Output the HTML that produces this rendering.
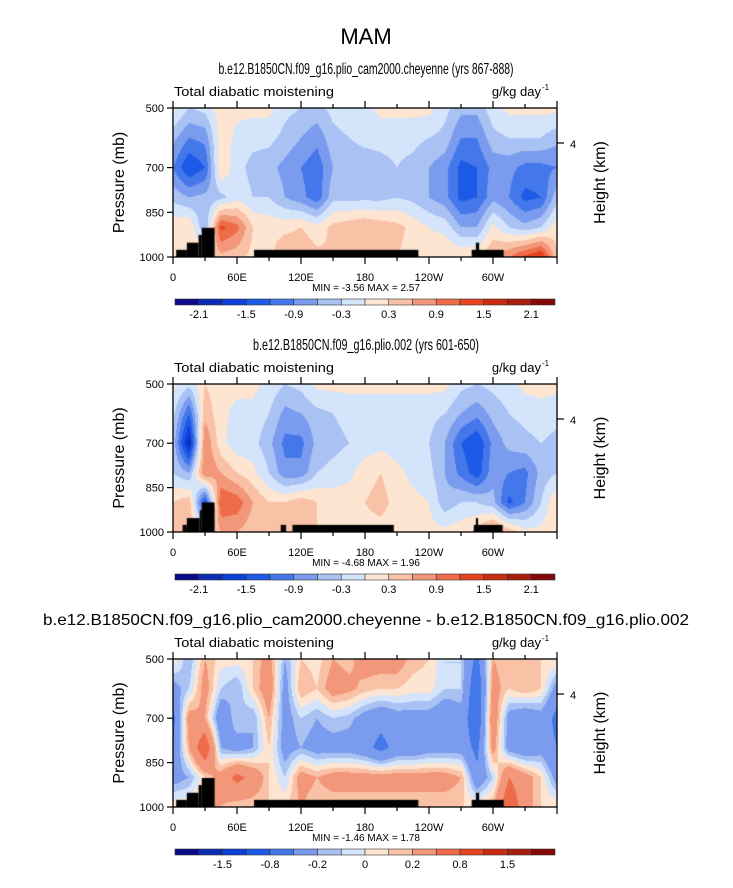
<!DOCTYPE html>
<html><head><meta charset="utf-8">
<style>
html,body{margin:0;padding:0;background:#fff;}
#wrap{position:relative;width:733px;height:888px;overflow:hidden;}
canvas{position:absolute;}
svg{position:absolute;left:0;top:0;}
text{font-family:"Liberation Sans",sans-serif;fill:#000;}
</style></head>
<body>
<div id="wrap">
<canvas id="c1" width="384" height="149" style="left:173px;top:108px"></canvas>
<canvas id="c2" width="384" height="148" style="left:173px;top:384px"></canvas>
<canvas id="c3" width="384" height="148" style="left:173px;top:659px"></canvas>
<svg id="svg" width="733" height="888"></svg>
</div>
<script>
// ---- data ----
const lons = [0,15,30,45,60,75,90,105,120,135,150,165,180,195,210,225,240,255,270,285,300,315,330,345,360];
const pressures = [500,600,700,800,900,1000];
const field1 = [
 [0.1,-0.3,-0.2,0.2,0.1,0.1,0.1,-0.2,-0.3,-0.4,-0.2,-0.1,-0.1,0.1,0.1,0.1,0.1,-0.2,-0.5,-0.5,-0.1,0.1,0.1,0.1,0.1],
 [-0.5,-0.9,-0.8,0.2,-0.1,-0.2,-0.2,-0.4,-0.6,-0.8,-0.4,-0.3,-0.2,-0.2,-0.2,-0.2,-0.3,-0.4,-0.9,-0.9,-0.4,-0.3,-0.3,-0.3,-0.5],
 [-0.9,-1.5,-1.2,0.3,-0.2,-0.4,-0.5,-0.7,-0.9,-1.1,-0.6,-0.5,-0.5,-0.4,-0.3,-0.4,-0.6,-0.8,-1.3,-1.2,-0.8,-0.8,-1.0,-1.0,-0.9],
 [-0.4,-0.6,-0.5,-0.4,-0.1,-0.3,-0.3,-0.6,-0.8,-1.1,-0.4,-0.4,-0.4,-0.4,-0.3,-0.4,-0.6,-0.8,-1.3,-1.2,-0.7,-0.9,-1.3,-1.2,-0.4],
 [0.2,0.3,-0.6,1.3,1.0,0.3,0.2,0.2,0.3,0.1,0.4,0.5,0.6,0.5,0.4,0.2,0.0,-0.1,-0.6,-0.6,0.1,-0.3,-0.5,-0.3,0.2],
 [0.3,0.3,0.3,0.5,0.4,0.2,0.2,0.6,0.6,0.4,0.3,0.3,0.3,0.3,0.3,0.2,0.2,0.3,0.3,0.3,0.6,0.9,1.3,1.6,0.3]
];
const field2 = [
 [0.1,-0.2,0.3,0.1,0.1,0.1,-0.1,-0.3,-0.2,0.1,0.1,0.1,0.1,0.1,0.1,0.1,0.1,0.1,-0.2,-0.3,-0.2,-0.1,0.1,0.1,0.1],
 [-0.2,-1.2,0.5,0.1,-0.1,-0.1,-0.3,-0.7,-0.6,-0.4,-0.3,-0.2,-0.2,-0.2,-0.2,-0.2,-0.2,-0.3,-0.6,-0.8,-0.5,-0.3,-0.2,-0.1,-0.2],
 [-0.4,-2.0,0.9,0.1,-0.2,-0.2,-0.5,-1.0,-1.0,-0.5,-0.4,-0.3,-0.2,-0.1,-0.2,-0.2,-0.3,-0.6,-1.2,-1.5,-0.8,-0.5,-0.4,-0.3,-0.4],
 [-0.3,-0.6,0.9,0.6,0.3,0.1,-0.3,-0.8,-0.8,-0.3,-0.2,-0.1,0.2,0.3,0.1,-0.1,-0.2,-0.6,-1.0,-1.4,-0.7,-0.9,-1.0,-0.5,-0.3],
 [0.3,0.5,-1.5,1.2,1.1,0.6,0.3,0.3,0.5,0.3,0.2,0.2,0.3,0.4,0.2,0.1,0.0,-0.5,-0.3,-0.3,-0.5,-1.3,-0.9,-0.3,0.3],
 [0.3,0.5,0.2,0.6,0.6,0.4,0.3,0.4,0.4,0.3,0.3,0.2,0.2,0.2,0.1,0.1,0.1,0.1,0.2,0.4,0.9,0.5,0.1,0.1,0.3]
];
const field3 = [
 [0.1,-0.2,0.2,0.05,0.05,0.1,0.3,-0.2,0.1,0.05,0.2,0.15,0.3,0.3,0.3,0.15,0.1,-0.1,-0.1,-0.6,0.2,0.1,0.2,0.1,0.1],
 [-0.3,-0.1,0.3,-0.1,-0.2,0.1,0.35,-0.3,0.2,0.1,0.3,0.25,0.15,0.1,0.1,0.05,0.05,-0.1,-0.1,-0.8,0.3,0.1,0.2,0.1,-0.3],
 [-0.6,0.3,0.2,-0.4,-0.1,-0.2,0.2,-0.3,-0.1,-0.2,-0.1,-0.15,-0.3,-0.4,-0.3,-0.3,-0.3,-0.4,-0.3,-0.8,0.4,-0.3,-0.4,-0.3,-0.6],
 [-0.5,0.2,0.8,-0.2,-0.3,-0.2,0.1,-0.3,-0.2,-0.3,-0.3,-0.3,-0.4,-0.6,-0.4,-0.4,-0.3,-0.3,-0.3,-0.6,0.3,-0.3,-0.4,-0.3,-0.5],
 [-0.3,-0.2,0.1,0.3,0.6,0.4,0.1,-0.1,0.3,0.2,0.3,0.3,0.3,0.3,0.3,0.3,0.3,0.3,0.2,-0.4,-0.1,0.5,0.3,0.1,-0.3],
 [0.1,0.1,0.2,0.2,0.1,0.1,0.1,0.1,0.2,0.1,0.1,0.1,0.1,0.1,0.1,0.1,0.1,0.1,0.1,0.1,0.2,0.8,0.3,0.1,0.1]
];
const levels12 = [-2.1,-1.8,-1.5,-1.2,-0.9,-0.6,-0.3,0,0.3,0.6,0.9,1.2,1.5,1.8,2.1];
const levels3 = [-1.8,-1.5,-1.2,-0.8,-0.5,-0.2,-0.1,0,0.1,0.2,0.5,0.8,1.2,1.5,1.8];
const cbLabels12 = ["-2.1","-1.5","-0.9","-0.3","0.3","0.9","1.5","2.1"];
const cbLabels3 = ["-1.5","-0.8","-0.2","0","0.2","0.8","1.5"];
// topography: [lonStart, lonEnd, surface pressure]
const topo1 = [[3,13,976],[13,24,952],[24,27,926],[27,39,902],[76,230,976],[280,310,976],[284,287,952]];
const topo2 = [[9,13,976],[13,25,953],[25,27,926],[27,39,900],[101,106,976],[112,207,976],[282,309,976],[284,286,953]];
const topo3 = [[3,13,976],[13,24,952],[24,27,926],[27,39,902],[76,230,976],[280,310,976],[284,287,952]];
const xTickLabels = ["0","60E","120E","180","120W","60W"];
const yTickValues = [500,700,850,1000];
const palette = ['#0a0a8a','#0a2cb4','#0d3fd8','#1e5ae8','#4478ea','#7a9bee','#a9c2f3','#d3e4fb','#fde5d2','#f9c2a6','#f3977a','#ef6c4a','#e64320','#c92c10','#a81f0c','#850707'];

// ---- drawing ----
function sample(field, lon, p){
  let fx = lon/15, fy = (p-500)/100;
  let i = Math.min(Math.floor(fx), lons.length-2), j = Math.min(Math.floor(fy), pressures.length-2);
  let tx = fx-i, ty = fy-j;
  let a = field[j][i]*(1-tx)+field[j][i+1]*tx;
  let b = field[j+1][i]*(1-tx)+field[j+1][i+1]*tx;
  return a*(1-ty)+b*ty;
}
function colorIdx(v, lv){ let k=0; while(k<lv.length && v>=lv[k]) k++; return k; }
function hexRgb(h){ return [parseInt(h.substr(1,2),16),parseInt(h.substr(3,2),16),parseInt(h.substr(5,2),16)]; }
const rgb = palette.map(hexRgb);
function drawField(id, field, lv, topo){
  const c = document.getElementById(id), ctx = c.getContext('2d');
  const W=c.width, H=c.height, img=ctx.createImageData(W,H);
  for(let y=0;y<H;y++){
    const p = 500 + (y+0.5)/H*500;
    for(let x=0;x<W;x++){
      const lon = (x+0.5)/W*360;
      const col = rgb[colorIdx(sample(field,lon,p),lv)];
      const o=(y*W+x)*4; img.data[o]=col[0]; img.data[o+1]=col[1]; img.data[o+2]=col[2]; img.data[o+3]=255;
    }
  }
  ctx.putImageData(img,0,0);
  ctx.fillStyle='#000';
  topo.forEach(t=>{
    const x0=t[0]/360*W, x1=t[1]/360*W, y0=(t[2]-500)/500*H;
    ctx.fillRect(x0,y0,x1-x0,H-y0);
  });
}
drawField('c1',field1,levels12,topo1);
drawField('c2',field2,levels12,topo2);
drawField('c3',field3,levels3,topo3);

const svg=document.getElementById('svg');
const NS='http://www.w3.org/2000/svg';
function mk(tag, attrs, parent){ const e=document.createElementNS(NS,tag); for(const k in attrs) e.setAttribute(k,attrs[k]); (parent||svg).appendChild(e); return e; }
function txt(s, attrs){ const e=mk('text',attrs); e.textContent=s; return e; }

let t = txt('MAM',{x:366,y:44,'font-size':22,'text-anchor':'middle',fill:'#333'});



const panels = [
 {top:108,h:149,title:'b.e12.B1850CN.f09_g16.plio_cam2000.cheyenne (yrs 867-888)',tw:295,ty:74,min:'-3.56',max:'2.57',lv:levels12,lab:cbLabels12,labIdx:[1,3,5,7,9,11,13,15]},
 {top:384,h:148,title:'b.e12.B1850CN.f09_g16.plio.002 (yrs 601-650)',tw:226,ty:350,min:'-4.68',max:'1.96',lv:levels12,lab:cbLabels12,labIdx:[1,3,5,7,9,11,13,15]},
 {top:659,h:148,title:'b.e12.B1850CN.f09_g16.plio_cam2000.cheyenne - b.e12.B1850CN.f09_g16.plio.002',tw:646,ty:625,min:'-1.46',max:'1.78',lv:levels3,lab:cbLabels3,labIdx:[2,4,6,8,10,12,14]}
];
const L=173, W=384;
function xOf(lon){ return L + lon/360*W; }
panels.forEach((P,pi)=>{
  const n=pi+1, bot=P.top+P.h;
  const yOf = p => P.top + (p-500)/500*P.h;
  let e = txt(P.title,{x:366,y:P.ty,'font-size':16,'text-anchor':'middle',textLength:P.tw,lengthAdjust:'spacingAndGlyphs'});
  
  
  e = txt('Total diabatic moistening',{x:L+1,y:P.top-12,'font-size':13,fill:'#333',textLength:160,lengthAdjust:'spacingAndGlyphs'});
  
  
  e = txt('g/kg day',{x:541,y:P.top-12,'font-size':13,fill:'#333','text-anchor':'end'});
  
  
  e = txt('-1',{x:542,y:P.top-18,'font-size':8});
  
  
  e = mk('rect',{x:L,y:P.top,width:W,height:P.h,fill:'none',stroke:'#000','stroke-width':1.3});
  
  
  for(let k=0;k<=12;k++){
    const lon=k*30, x=xOf(lon), len = k%2===0?7:4;
    e = mk('line',{x1:x,x2:x,y1:bot,y2:bot+len,stroke:'#000','stroke-width':1.2});
    
    
    e = mk('line',{x1:x,x2:x,y1:P.top,y2:P.top-len,stroke:'#000','stroke-width':1.2});
    
    
  }
  xTickLabels.forEach((s,k)=>{
    const lab = txt(s,{x:xOf(k*60),y:bot+24,'font-size':11,fill:'#333','text-anchor':'middle'});
    
    
  });
  yTickValues.forEach(p=>{
    const y=yOf(p);
    let l = mk('line',{x1:L-6,x2:L,y1:y,y2:y,stroke:'#000','stroke-width':1.2});
    
    
    l = txt(String(p),{x:L-9,y:y+4,'font-size':11,fill:'#333','text-anchor':'end'});
    
    
  });
  e = txt('Pressure (mb)',{x:0,y:0,'font-size':16,fill:'#666','text-anchor':'middle',transform:`translate(124,${P.top+P.h/2}) rotate(-90)`});
  
  
  e = txt('Height (km)',{x:0,y:0,'font-size':16,fill:'#666','text-anchor':'middle',transform:`translate(605,${P.top+P.h/2}) rotate(-90)`});
  
  
  e = mk('line',{x1:557,x2:564,y1:P.top+35,y2:P.top+35,stroke:'#000','stroke-width':1.2});
  
  
  e = txt('4',{x:570,y:P.top+40,'font-size':11,fill:'#333'});
  
  
  e = txt('MIN =   '+P.min+'   MAX =     '+P.max,{x:366,y:bot+34,'font-size':10,'text-anchor':'middle','xml:space':'preserve'});
  
  
  const cy = bot+42, bw=380/16;
  palette.forEach((c,k)=>{
    const r = mk('rect',{x:175+k*bw,y:cy,width:bw,height:6,fill:c,stroke:'#333','stroke-width':0.6});
    
    
  });
  P.lab.forEach((s,k)=>{
    const r = txt(s,{x:175+P.labIdx[k]*bw,y:cy+19,'font-size':11,fill:'#333','text-anchor':'middle'});
    
    
  });
});
</script>
</body></html>
